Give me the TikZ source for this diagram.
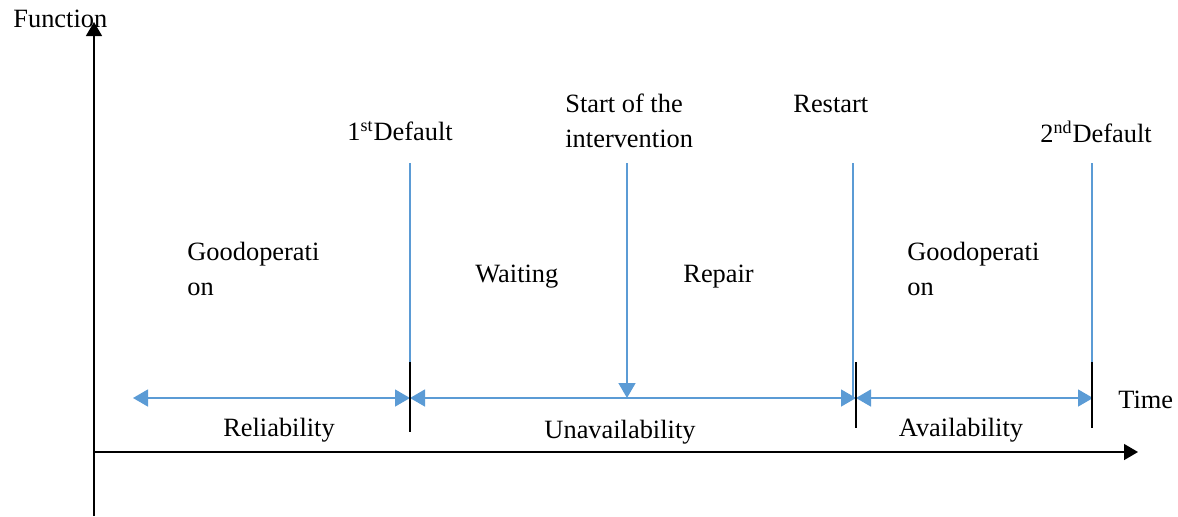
\documentclass[tikz,border=0pt]{standalone}
\usepackage{fontspec}
\setmainfont{Liberation Serif}
\usetikzlibrary{arrows.meta}
\definecolor{lineblue}{RGB}{91,155,213}
\begin{document}
\begin{tikzpicture}[x=0.5pt,y=-0.5pt,
  lbl/.style={inner sep=0pt,font=\fontsize{13.2}{17.5}\selectfont,anchor=base west,align=left},
  bline/.style={draw=lineblue,line width=0.75pt},
  barrow/.style={bline,-{Triangle[length=7.5pt,width=8.5pt]}},
  bdarrow/.style={bline,{Triangle[length=7.5pt,width=8.5pt]}-{Triangle[length=7.5pt,width=8.5pt]}},
  axis/.style={draw=black,line width=0.75pt,-{Triangle[length=7pt,width=8pt]}},
  tick/.style={draw=black,line width=1.2pt}]
\useasboundingbox (0,0) rectangle (1178,516);
% axes
\coordinate (o) at (94,452);
\coordinate (ybot) at (94,516);
\coordinate (ytop) at (94,22);
\coordinate (xend) at (1138,452);
\draw[axis] (ybot) -- (ytop);
\draw[axis] (94,452) -- (xend);
\node[lbl] (fn) at (13,27) {Function};
\node[lbl] (time) at (1118,408) {Time};
% event points on the timeline
\coordinate (a0) at (133,398);
\coordinate (a1) at (410,398);
\coordinate (a2) at (856,398);
\coordinate (a3) at (1093,398);
\coordinate (mid) at (627,398);
% blue verticals
\coordinate (v1) at (410,163);
\coordinate (v2) at (627,163);
\coordinate (v3) at (853,163);
\coordinate (v3b) at (853,398);
\coordinate (v4) at (1092,163);
\coordinate (v4b) at (1092,398);
\draw[bline] (v1) -- (a1);
\draw[barrow] (v2) -- (mid);
\draw[bline] (v3) -- (v3b);
\draw[bline] (v4) -- (v4b);
% horizontal double arrows
\draw[bdarrow] (a0) -- (a1);
\draw[bdarrow] (a1) -- (a2);
\draw[bdarrow] (a2) -- (a3);
% black ticks
\coordinate (t1a) at (410,362); \coordinate (t1b) at (410,432);
\coordinate (t2a) at (856,362); \coordinate (t2b) at (856,428);
\coordinate (t3a) at (1092,362); \coordinate (t3b) at (1092,428);
\draw[tick] (t1a) -- (t1b);
\draw[tick] (t2a) -- (t2b);
\draw[tick] (t3a) -- (t3b);
% labels
\node[lbl] (d1) at (347,140) {1\textsuperscript{\fontsize{9}{9}\selectfont st}Default};
\node[lbl] (st) at (565,147) {Start of the\\intervention};
\node[lbl] (rs) at (793,112) {Restart};
\node[lbl] (d2) at (1040,142) {2\textsuperscript{\fontsize{9}{9}\selectfont nd}Default};
\node[lbl] (g1) at (187,295) {Goodoperati\\on};
\node[lbl] (wt) at (475,282) {Waiting};
\node[lbl] (rp) at (683,282) {Repair};
\node[lbl] (g2) at (907,295) {Goodoperati\\on};
\node[lbl,anchor=base] (rel) at (279,436) {Reliability};
\node[lbl,anchor=base] (una) at (620,438) {Unavailability};
\node[lbl,anchor=base] (ava) at (961,436) {Availability};
\end{tikzpicture}
\end{document}
